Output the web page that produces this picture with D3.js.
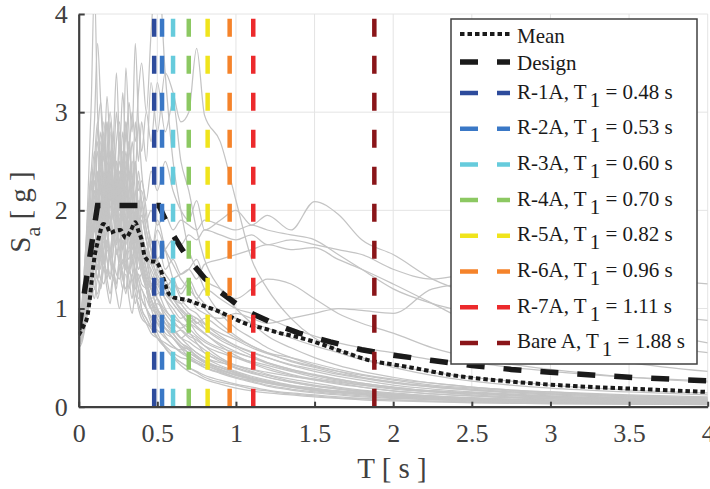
<!DOCTYPE html>
<html><head><meta charset="utf-8">
<script src="https://cdn.jsdelivr.net/npm/d3@7"></script>
<style>body{margin:0;background:#fff} svg{display:block} text{font-family:"Liberation Serif","DejaVu Serif","Noto Serif",serif}</style>
</head><body><svg id="c" width="710" height="489"></svg>
<script>
// ---- data ----
const periodGrid = [0,0.02,0.04,0.06,0.08,0.1, 0.12,0.14,0.16,0.18,0.2, 0.22,0.24,0.26,0.28,0.3, 0.32,0.34,0.36,0.38,0.4,
  0.43,0.46,0.5,0.55,0.6, 0.65,0.7,0.75,0.8,0.9, 1.0,1.1,1.2,1.35,1.5, 1.65,1.8,2.0,2.25,2.5, 2.75,3.0,3.5,4.0];
const records = [
 [0.72,0.9,1.4,2.2,3.1,4.3, 3.0,2.4,2.8,2.2,1.9, 2.3,1.8,1.6,2.0,1.5, 1.4,1.7,1.3,1.1,1.2, 1.0,0.85,0.7,0.6,0.5, 0.45,0.4,0.35,0.3,0.25, 0.22,0.18,0.16,0.13,0.11, 0.09,0.08,0.07,0.055,0.045, 0.04,0.035,0.028,0.022],
 [0.8,1.0,1.5,1.9,2.4,2.9, 3.7,3.1,2.6,2.9,2.3, 2.6,2.1,1.9,2.3,1.8, 1.7,2.0,1.6,1.4,1.5, 1.2,1.0,0.95,0.8,0.7, 0.6,0.5,0.45,0.42,0.36, 0.3,0.26,0.22,0.18,0.15, 0.13,0.11,0.09,0.075,0.06, 0.05,0.045,0.035,0.03],
 [0.7,0.85,1.2,1.6,1.9,2.3, 2.0,2.6,2.2,2.9,2.5, 2.7,3.4,2.6,2.2,2.8, 2.3,1.9,2.2,1.7,1.5, 1.3,1.1,0.9,0.75,0.7, 0.62,0.55,0.5,0.45,0.4, 0.35,0.3,0.26,0.21,0.18, 0.15,0.13,0.11,0.09,0.075, 0.065,0.055,0.045,0.035],
 [0.78,0.95,1.3,1.7,2.1,1.8, 2.4,2.0,2.7,2.3,2.9, 2.5,3.0,2.6,3.2,2.7, 3.1,2.8,3.7,2.9,2.4, 2.0,1.6,1.3,1.1,0.95, 0.85,0.75,0.7,0.62,0.5, 0.42,0.38,0.33,0.28,0.24, 0.2,0.17,0.14,0.11,0.09, 0.075,0.065,0.05,0.04],
 [0.85,1.0,1.4,1.8,2.2,2.6, 2.3,2.8,2.5,3.16,2.6, 2.2,2.7,2.9,2.4,3.45, 2.8,2.3,2.5,2.0,1.8, 1.5,1.25,1.1,0.9,0.8, 0.7,0.62,0.55,0.5,0.42, 0.36,0.31,0.27,0.22,0.19, 0.16,0.14,0.12,0.1,0.08, 0.07,0.06,0.048,0.038],
 [0.68,0.8,1.1,1.5,1.7,2.0, 1.8,2.2,1.9,2.4,2.1, 2.6,2.2,2.0,2.5,2.9, 2.4,2.1,1.9,2.3,2.0, 1.7,1.5,1.9,1.6,1.3, 1.1,1.0,0.95,0.85,0.72, 0.62,0.55,0.5,0.42,0.36, 0.31,0.27,0.22,0.18,0.15, 0.13,0.11,0.085,0.07],
 [0.75,0.85,1.1,1.4,1.7,1.9, 1.6,2.1,1.8,2.3,2.0, 2.5,2.2,2.7,2.4,2.9, 2.6,3.0,2.7,3.2,3.5, 3.0,3.8,4.6,3.4,2.5, 2.0,1.6,1.4,1.2,0.95, 0.8,0.7,0.6,0.5,0.42, 0.36,0.3,0.25,0.2,0.17, 0.14,0.12,0.09,0.075],
 [0.7,0.8,1.0,1.3,1.5,1.8, 1.6,1.9,2.2,1.9,2.4, 2.1,2.5,2.3,2.8,2.4, 2.7,2.3,2.9,2.5,2.9, 2.5,3.3,2.8,3.4,3.2, 2.9,3.0,3.65,2.97,2.7, 2.1,1.5,1.2,0.9,0.7, 0.58,0.5,0.4,0.32,0.26, 0.22,0.19,0.15,0.12],
 [0.8,0.9,1.1,1.3,1.5,1.6, 1.5,1.8,1.7,2.0,1.8, 2.1,1.9,2.3,2.0,2.2, 2.4,2.1,2.5,2.2,2.3, 2.1,2.4,2.2,2.5,2.2, 2.0,1.9,2.1,1.8,1.9, 2.0,1.85,1.95,1.8,2.09, 1.96,1.7,1.55,1.3,1.15, 1.05,0.95,0.8,0.65],
 [0.65,0.72,0.9,1.1,1.3,1.4, 1.3,1.5,1.4,1.6,1.5, 1.7,1.6,1.5,1.8,1.6, 1.5,1.7,1.6,1.4,1.5, 1.6,1.45,1.5,1.6,1.7, 1.65,1.75,1.7,1.8,1.75, 1.7,1.75,1.65,1.7,1.65, 1.6,1.55,1.4,1.3,1.35, 1.3,1.25,1.3,1.25],
 [0.6,0.65,0.8,1.0,1.1,1.2, 1.15,1.3,1.25,1.4,1.3, 1.45,1.35,1.3,1.5,1.4, 1.35,1.5,1.4,1.3,1.35, 1.3,1.2,1.25,1.15,1.1, 1.05,1.1,1.0,0.95,0.9, 0.95,0.9,0.85,0.9,0.95, 1.0,0.98,0.95,1.2,1.25, 1.15,1.05,0.95,0.88],
 [0.7,0.75,0.9,1.1,1.3,1.5, 1.4,1.6,1.5,1.7,1.6, 1.8,1.65,1.9,1.75,1.85, 1.95,1.8,2.0,1.85,1.95, 1.9,2.0,1.85,1.95,1.8, 1.9,1.85,1.8,1.9,1.85, 1.8,1.85,1.8,1.75,1.7, 1.55,1.4,1.2,1.05,0.95, 0.85,0.78,0.65,0.55],
 [0.75,0.85,1.2,1.5,1.9,2.2, 1.9,2.3,2.0,2.5,2.2, 1.9,2.4,2.1,1.8,2.2, 1.9,2.3,2.0,1.7,1.9, 1.7,1.5,1.8,1.6,1.45, 1.3,1.2,1.1,1.0,0.85, 0.72,0.62,0.55,0.46,0.4, 0.34,0.3,0.25,0.21,0.18, 0.15,0.13,0.1,0.08],
 [0.82,0.9,1.15,1.4,1.6,1.5, 1.8,1.6,1.4,1.7,1.5, 1.3,1.6,1.4,1.2,1.5, 1.3,1.1,1.4,1.2,1.0, 0.9,0.8,0.7,0.6,0.52, 0.45,0.4,0.36,0.32,0.27, 0.23,0.2,0.17,0.14,0.12, 0.1,0.085,0.07,0.058,0.05, 0.043,0.037,0.03,0.025],
 [0.66,0.75,1.0,1.2,1.45,1.3, 1.6,1.4,1.7,1.5,1.3, 1.6,1.9,1.5,1.7,1.4, 1.8,1.5,1.3,1.6,1.4, 1.2,1.0,1.1,0.9,0.8, 0.7,0.75,0.65,0.55,0.48, 0.42,0.36,0.32,0.26,0.22, 0.19,0.16,0.13,0.11,0.09, 0.075,0.065,0.05,0.04],
 [0.9,1.05,1.5,2.0,2.4,2.1, 2.7,2.3,2.0,2.5,2.8, 2.3,2.0,2.4,2.1,1.8, 2.1,1.9,1.6,1.8,1.5, 1.3,1.1,0.95,0.8,0.7, 0.62,0.58,0.52,0.46,0.4, 0.34,0.29,0.25,0.21,0.17, 0.15,0.13,0.1,0.085,0.07, 0.06,0.05,0.04,0.032],
 [0.7,0.78,1.1,1.3,1.6,1.9, 2.2,1.9,2.4,2.1,1.8, 2.2,2.5,2.2,1.9,2.1, 2.4,2.1,1.8,2.0,2.2, 1.9,1.7,1.5,1.35,1.25, 1.2,1.3,1.15,1.05,0.95, 0.9,0.85,0.8,0.7,0.62, 0.55,0.48,0.42,0.35,0.3, 0.26,0.22,0.17,0.14],
 [0.74,0.82,1.0,1.25,1.5,1.7, 1.5,1.3,1.6,1.8,1.5, 1.4,1.7,1.9,1.6,1.4, 1.6,1.4,1.2,1.3,1.1, 1.0,0.9,0.75,0.6,0.5, 0.42,0.36,0.32,0.28,0.23, 0.19,0.16,0.14,0.12,0.1, 0.085,0.07,0.06,0.05,0.04, 0.035,0.03,0.025,0.02],
 [0.78,0.88,1.25,1.6,1.9,2.3, 2.0,1.7,2.1,1.9,2.4, 2.0,1.7,1.9,2.2,1.9, 1.6,1.8,1.5,1.3,1.2, 1.1,1.0,1.05,0.95,0.85, 0.8,0.85,0.75,0.68,0.6, 0.55,0.5,0.45,0.38,0.33, 0.28,0.24,0.2,0.16,0.14, 0.12,0.1,0.08,0.065],
 [0.72,0.8,1.0,1.3,1.5,1.4, 1.7,1.5,1.8,1.6,1.9, 1.7,2.0,1.8,1.6,1.9, 1.7,1.5,1.8,1.6,1.4, 1.5,1.3,1.4,1.2,1.3, 1.15,1.25,1.1,1.2,1.1, 1.0,0.95,0.9,0.8,0.72, 0.65,0.6,0.55,0.48,0.45, 0.4,0.36,0.3,0.26],
 [0.88,1.0,1.3,1.7,2.0,2.4, 2.1,2.5,2.9,2.4,2.1, 2.6,2.3,2.0,2.3,2.5, 2.1,1.8,2.0,1.7,1.5, 1.3,1.2,1.0,0.9,0.75, 0.65,0.6,0.5,0.45,0.38, 0.32,0.28,0.24,0.2,0.16, 0.14,0.12,0.1,0.08,0.065, 0.055,0.047,0.036,0.03],
 [0.64,0.7,0.85,1.0,1.15,1.3, 1.1,1.25,1.4,1.2,1.05, 1.3,1.15,1.0,1.2,1.35, 1.1,0.95,1.15,1.0,0.9, 0.85,0.8,0.7,0.62,0.55, 0.5,0.48,0.44,0.4,0.35, 0.3,0.27,0.24,0.2,0.17, 0.15,0.13,0.11,0.09,0.075, 0.065,0.057,0.045,0.037],
 [0.76,0.85,1.1,1.5,1.8,1.6, 2.0,2.4,2.1,1.8,2.2, 2.5,2.1,2.8,2.3,2.0, 2.2,2.5,2.2,1.9,1.7, 1.5,1.4,1.25,1.1,1.0, 0.9,0.95,0.85,0.9,0.8, 0.7,0.62,0.55,0.5,0.44, 0.38,0.33,0.28,0.24,0.2, 0.17,0.15,0.12,0.1],
 [0.69,0.76,0.95,1.2,1.4,1.6, 1.9,1.6,2.0,2.3,1.9, 2.1,1.8,2.2,2.0,2.4, 2.7,2.3,2.0,2.4,2.1, 1.8,1.6,1.7,1.4,1.5, 1.35,1.4,1.5,1.3,1.2, 1.1,1.2,1.3,1.25,1.1, 0.95,0.85,0.75,0.6,0.5, 0.43,0.38,0.3,0.25],
 [0.8,0.9,1.2,1.6,2.0,2.5, 2.9,2.5,2.2,2.6,3.0, 2.6,2.3,2.0,2.3,2.1, 1.8,2.0,1.7,1.5,1.35, 1.2,1.05,0.9,0.8,0.7, 0.6,0.55,0.5,0.45,0.38, 0.33,0.28,0.25,0.21,0.18, 0.15,0.13,0.1,0.085,0.07, 0.06,0.05,0.04,0.033],
 [0.73,0.8,1.05,1.35,1.6,1.85, 2.1,1.8,1.6,1.9,2.2, 1.9,2.1,1.8,2.0,1.7, 1.9,1.6,1.75,1.5,1.6, 1.4,1.25,1.3,1.15,1.05, 0.95,0.85,0.9,0.8,0.68, 0.6,0.52,0.45,0.38,0.32, 0.27,0.23,0.19,0.15,0.13, 0.11,0.095,0.075,0.06],
 [0.77,0.85,1.1,1.4,1.7,1.5, 1.9,1.7,2.1,1.8,2.3, 2.0,2.2,2.5,2.2,2.6, 2.3,2.7,2.4,2.9,2.6, 3.0,2.7,3.3,2.8,3.1, 2.5,2.2,1.8,1.5,1.2, 1.0,0.85,0.72,0.6,0.5, 0.42,0.36,0.3,0.24,0.2, 0.17,0.15,0.11,0.09],
 [0.71,0.78,0.95,1.15,1.35,1.2, 1.45,1.3,1.5,1.35,1.6, 1.4,1.25,1.5,1.3,1.45, 1.2,1.35,1.15,1.05,0.95, 0.85,0.75,0.7,0.65,0.6, 0.58,0.6,0.55,0.5,0.45, 0.42,0.38,0.35,0.31,0.28, 0.25,0.22,0.19,0.16,0.14, 0.12,0.105,0.085,0.07],
 [0.62,0.68,0.82,1.0,1.2,1.1, 1.3,1.2,1.4,1.3,1.15, 1.35,1.25,1.45,1.3,1.2, 1.4,1.3,1.2,1.35,1.25, 1.2,1.1,1.15,1.2,1.3, 1.35,1.4,1.3,1.45,1.5, 1.55,1.6,1.65,1.6,1.62, 1.5,1.4,1.25,1.05,0.85, 0.7,0.6,0.45,0.36],
 [0.67,0.74,0.9,1.1,1.3,1.5, 1.3,1.6,1.45,1.7,1.5, 1.8,1.55,1.7,1.45,1.6, 1.4,1.55,1.35,1.2,1.1, 1.0,0.92,0.85,0.8,0.75, 0.78,0.72,0.68,0.62,0.55, 0.5,0.46,0.42,0.36,0.3, 0.26,0.22,0.18,0.15,0.12, 0.1,0.09,0.07,0.055],
 [0.74,0.86,1.2,1.7,2.3,2.0, 2.6,2.2,1.9,2.1,2.5, 2.2,1.9,2.3,2.0,1.8, 2.0,1.7,1.9,1.6,1.4, 1.2,1.0,0.85,0.72,0.62, 0.55,0.5,0.45,0.4,0.34, 0.29,0.25,0.21,0.17,0.14, 0.12,0.1,0.085,0.07,0.06, 0.05,0.042,0.033,0.027],
 [0.81,0.92,1.3,1.5,1.8,2.1, 1.7,1.95,2.3,1.9,1.6, 1.9,2.2,1.8,2.4,2.1, 1.8,2.1,2.4,1.9,1.7, 1.6,1.35,1.2,1.0,0.88, 0.78,0.7,0.64,0.58,0.48, 0.4,0.35,0.3,0.25,0.21, 0.18,0.15,0.12,0.1,0.082, 0.07,0.06,0.047,0.038],
 [0.69,0.8,1.05,1.3,1.2,1.6, 1.4,1.75,1.5,1.3,1.6, 1.45,1.2,1.55,1.35,1.15, 1.4,1.25,1.05,1.2,1.0, 0.9,0.82,0.78,0.7,0.62, 0.56,0.52,0.47,0.43,0.37, 0.32,0.28,0.25,0.21,0.18, 0.16,0.14,0.12,0.1,0.085, 0.075,0.065,0.052,0.042],
 [0.77,0.9,1.35,1.8,2.1,1.8, 2.2,2.7,2.3,2.0,2.4, 2.8,2.4,2.1,2.5,2.2, 2.6,2.3,2.0,1.8,2.1, 1.8,1.6,1.4,1.25,1.1, 0.98,0.9,0.82,0.75,0.62, 0.52,0.45,0.4,0.33,0.28, 0.24,0.2,0.16,0.13,0.11, 0.09,0.078,0.06,0.048],
 [0.84,0.95,1.2,1.45,1.7,1.95, 2.3,2.0,1.8,2.1,1.9, 1.7,2.0,1.8,1.6,1.85, 2.1,1.8,1.6,1.75,1.55, 1.35,1.2,1.1,0.98,0.9, 0.85,0.8,0.72,0.66,0.58, 0.5,0.44,0.38,0.32,0.27, 0.23,0.2,0.16,0.13,0.11, 0.095,0.082,0.064,0.052],
 [0.66,0.78,1.1,1.6,1.9,2.2, 1.9,1.6,1.85,2.2,2.6, 2.3,1.95,1.7,2.0,2.3, 1.95,1.7,1.5,1.7,1.45, 1.25,1.1,0.98,0.85,0.78, 0.7,0.66,0.6,0.55,0.46, 0.39,0.34,0.3,0.25,0.21, 0.18,0.16,0.13,0.105,0.088, 0.075,0.065,0.05,0.04],
 [0.72,0.82,1.0,1.2,1.45,1.7, 1.5,1.8,2.0,1.75,1.5, 1.75,2.0,2.2,1.9,1.65, 1.85,2.05,1.8,1.6,1.75, 1.55,1.45,1.3,1.2,1.1, 1.0,0.92,0.86,0.8,0.7, 0.62,0.56,0.5,0.43,0.38, 0.33,0.29,0.24,0.2,0.17, 0.15,0.13,0.1,0.08],
 [0.79,0.88,1.15,1.5,1.9,2.4, 2.8,3.1,2.6,2.2,2.5, 2.2,1.9,2.2,2.6,2.3, 2.0,1.8,2.0,1.75,1.6, 1.4,1.2,1.0,0.85,0.74, 0.65,0.58,0.52,0.47,0.4, 0.34,0.29,0.25,0.21,0.18, 0.15,0.13,0.11,0.09,0.075, 0.064,0.055,0.043,0.035],
 [0.63,0.72,0.9,1.05,1.25,1.45, 1.3,1.55,1.75,1.5,1.35, 1.6,1.85,1.6,1.4,1.7, 1.9,1.65,1.8,2.1,1.8, 1.6,1.7,1.45,1.3,1.15, 1.05,0.95,0.9,0.84,0.75, 0.68,0.6,0.54,0.47,0.41, 0.36,0.32,0.27,0.22,0.19, 0.16,0.14,0.11,0.09],
 [0.86,1.0,1.35,1.75,2.0,2.3, 2.0,2.35,2.1,1.9,2.2, 2.5,2.2,1.95,2.15,2.4, 2.1,2.3,2.05,1.85,1.95, 1.7,1.5,1.35,1.2,1.05, 0.95,0.86,0.8,0.74,0.64, 0.56,0.5,0.44,0.37,0.32, 0.28,0.24,0.2,0.16,0.14, 0.12,0.1,0.08,0.065]
];
const meanT  = [0,0.03,0.055,0.07,0.09,0.105,0.12,0.135,0.155,0.18,0.2,0.23,0.265,0.3,0.33,0.36,0.38,0.4,0.42,0.455,0.485,0.52,0.54,0.57,0.61,0.68,0.77,0.86,0.96,1.07,1.17,1.28,1.39,1.5,1.68,1.88,2.0,2.11,2.38,2.72,3.15,3.57,4.0];
const meanSa = [0.73,0.82,0.92,1.09,1.4,1.57,1.67,1.77,1.86,1.84,1.77,1.79,1.8,1.72,1.79,1.88,1.79,1.7,1.53,1.48,1.48,1.4,1.3,1.16,1.11,1.09,1.04,0.99,0.92,0.84,0.8,0.75,0.71,0.66,0.56,0.46,0.43,0.4,0.32,0.26,0.21,0.18,0.15];
const designT  = [0,0.12,0.51,0.55,0.6,0.65,0.7,0.8,0.9,1.0,1.1,1.25,1.4,1.6,1.8,2.0,2.25,2.5,2.75,3.0,3.5,4.0];
const designSa = [0.78,2.05,2.05,1.91,1.75,1.62,1.5,1.31,1.17,1.05,0.95,0.84,0.75,0.66,0.58,0.525,0.47,0.42,0.38,0.35,0.30,0.263];
const buildingNames   = ["R-1A","R-2A","R-3A","R-4A","R-5A","R-6A","R-7A","Bare A"];
const buildingPeriods = [0.48,0.53,0.60,0.70,0.82,0.96,1.11,1.88];
const buildingColors  = ["#2d4b9c","#3a78c6","#66cbdc","#8cc862","#f0e41c","#f5832a","#ec2a2c","#8a1519"];
const xTicks = [0,0.5,1,1.5,2,2.5,3,3.5,4];
const xTickLabels = ["0","0.5","1","1.5","2","2.5","3","3.5","4"];
const yTicks = [0,1,2,3,4];

// ---- chart ----
const FONT = "'Liberation Serif','DejaVu Serif','Noto Serif',serif";
const svg = d3.select("#c");
const x = d3.scaleLinear().domain([0,4]).range([78.7,707.7]);
const y = d3.scaleLinear().domain([0,4]).range([406.7,14]);

svg.append("defs").append("clipPath").attr("id","clip").append("rect")
  .attr("x",x(0)).attr("y",y(4)).attr("width",x(4)-x(0)).attr("height",y(0)-y(4));

// grid
const grid = svg.append("g").attr("stroke","#e4e4e4").attr("stroke-width",1);
grid.selectAll("line.v").data(xTicks.filter(d=>d>0)).join("line").attr("class","v")
  .attr("x1",d=>x(d)).attr("x2",d=>x(d)).attr("y1",y(0)).attr("y2",y(4));
grid.selectAll("line.h").data(yTicks.filter(d=>d>0)).join("line").attr("class","h")
  .attr("x1",x(0)).attr("x2",x(4)).attr("y1",d=>y(d)).attr("y2",d=>y(d));

const plot = svg.append("g").attr("clip-path","url(#clip)");
const lineRec = d3.line().x((d,i)=>x(periodGrid[i])).y(d=>y(d)).curve(d3.curveMonotoneX);
plot.append("g").selectAll("path").data(records).join("path")
  .attr("d",lineRec).attr("fill","none").attr("stroke","#c4c4c4").attr("stroke-width",1.25);

const meanLine = d3.line().x(d=>x(d[0])).y(d=>y(d[1])).curve(d3.curveMonotoneX);
plot.append("path").attr("d",meanLine(meanT.map((t,i)=>[t,meanSa[i]])))
  .attr("fill","none").attr("stroke","#1a1a1a").attr("stroke-width",4).attr("stroke-dasharray","4.5,3");
const designLine = d3.line().x(d=>x(d[0])).y(d=>y(d[1]));
plot.append("path").attr("d",designLine(designT.map((t,i)=>[t,designSa[i]])))
  .attr("fill","none").attr("stroke","#1a1a1a").attr("stroke-width",5.5).attr("stroke-dasharray","18,19");

// vertical building period lines
plot.append("g").selectAll("line").data(buildingPeriods).join("line")
  .attr("x1",d=>x(d)).attr("x2",d=>x(d)).attr("y1",y(0)).attr("y2",y(4))
  .attr("stroke",(d,i)=>buildingColors[i]).attr("stroke-width",4.5).attr("stroke-dasharray","18,19");

// axes
const axisColor = "#404040";
const gx = svg.append("g").attr("transform",`translate(0,${y(0)})`)
  .call(d3.axisBottom(x).tickValues(xTicks).tickFormat((d,i)=>xTickLabels[i]).tickSize(-5).tickSizeOuter(0).tickPadding(17));
const gy = svg.append("g").attr("transform",`translate(${x(0)},0)`)
  .call(d3.axisLeft(y).tickValues(yTicks).tickFormat(d3.format("d")).tickSize(-6).tickSizeOuter(0).tickPadding(11));
[gx,gy].forEach(g=>{
  g.attr("font-family",FONT);
  g.select(".domain").attr("stroke",axisColor).attr("stroke-width",2.2);
  g.selectAll(".tick line").attr("stroke",axisColor).attr("stroke-width",2);
  g.selectAll(".tick text").attr("fill",axisColor).attr("font-size",26).attr("font-family",FONT);
});

// axis titles
svg.append("text").attr("x",392).attr("y",478).attr("text-anchor","middle").attr("font-family",FONT)
  .attr("font-size",29).attr("fill",axisColor).text("T [ s ]");
const yt = svg.append("text").attr("transform","translate(30,212) rotate(-90)").attr("font-family",FONT)
  .attr("text-anchor","middle").attr("font-size",29).attr("fill",axisColor);
yt.append("tspan").text("S");
yt.append("tspan").attr("font-size",22).attr("dy",10).text("a");
yt.append("tspan").attr("dy",-10).text(" [ g ]");

// legend
const lg = svg.append("g").attr("font-family",FONT);
lg.append("rect").attr("x",451).attr("y",19).attr("width",246).attr("height",345)
  .attr("fill","#fff").attr("stroke",axisColor).attr("stroke-width",1.5);
const rowY = i => i===0 ? 34 : i===1 ? 62 : 93 + 35.7*(i-2);
const x0 = 460, x1 = 510, tx = 517;
lg.append("line").attr("x1",x0).attr("x2",x1).attr("y1",rowY(0)).attr("y2",rowY(0))
  .attr("stroke","#1a1a1a").attr("stroke-width",4).attr("stroke-dasharray","4.5,3");
lg.append("text").attr("x",tx).attr("y",rowY(0)+9).attr("font-size",21).attr("fill","#1a1a1a").text("Mean");
lg.append("line").attr("x1",x0).attr("x2",x1).attr("y1",rowY(1)).attr("y2",rowY(1))
  .attr("stroke","#1a1a1a").attr("stroke-width",5.5).attr("stroke-dasharray","18,19");
lg.append("text").attr("x",tx).attr("y",rowY(1)+8).attr("font-size",21).attr("fill","#1a1a1a").text("Design");
buildingNames.forEach((name,i)=>{
  const yy = rowY(i+2);
  lg.append("line").attr("x1",x0).attr("x2",x1).attr("y1",yy).attr("y2",yy)
    .attr("stroke",buildingColors[i]).attr("stroke-width",4.5).attr("stroke-dasharray","18,19");
  const t = lg.append("text").attr("x",tx).attr("y",yy+5.5).attr("font-size",21).attr("fill","#1a1a1a");
  t.append("tspan").text(name + ", T");
  t.append("tspan").attr("dx",3).attr("dy",8).text("1");
  t.append("tspan").attr("dy",-8).text(" = " + buildingPeriods[i].toFixed(2) + " s");
});
</script></body></html>
